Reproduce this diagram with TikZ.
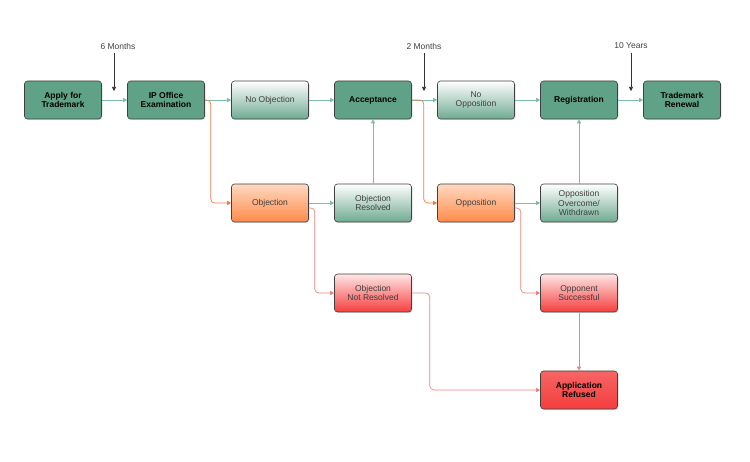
\documentclass[tikz,border=0pt]{standalone}
\usepackage{fontspec}
\setmainfont{Liberation Sans}
\usetikzlibrary{arrows.meta,shadows}
\definecolor{dg}{HTML}{5FA287}
\definecolor{lgb}{HTML}{6FAA92}
\definecolor{og}{HTML}{FF8A4A}
\definecolor{ot}{HTML}{FFD9C0}
\definecolor{rd}{HTML}{F53E3E}
\definecolor{rt}{HTML}{FFE6E6}
\definecolor{gl}{HTML}{7DBCA6}
\definecolor{ol}{HTML}{F07A45}
\definecolor{rl}{HTML}{F08080}
\begin{document}
\begin{tikzpicture}[x=1pt,y=-1pt,
 box/.style={rounded corners=3pt,draw=black!75,line width=0.6pt,minimum width=77pt,minimum height=38pt,align=center,font=\fontsize{8.5}{9.5}\selectfont,drop shadow={shadow xshift=1pt,shadow yshift=-1pt,opacity=0.25}},
 dark/.style={box,fill=dg,font=\fontsize{8.5}{9.5}\selectfont\bfseries},
 lgreen/.style={box,top color=white,bottom color=lgb,text=black!75},
 orange/.style={box,top color=ot,bottom color=og,text=black!75},
 red/.style={box,top color=rt,bottom color=rd,text=black!75},
 refused/.style={box,top color=rd!80,bottom color=rd,font=\fontsize{8.5}{9.5}\selectfont\bfseries},
 ga/.style={draw=gl,line width=0.7pt,-{Triangle[length=4pt,width=4pt]}},
 oa/.style={draw=ol,line width=0.7pt,rounded corners=4pt,-{Triangle[length=4pt,width=4pt]}},
 ra/.style={draw=rl,line width=0.7pt,rounded corners=4pt,-{Triangle[length=4pt,width=4pt]}},
 ka/.style={draw=black!80,line width=0.6pt,-{Triangle[length=4pt,width=4pt]}},
 lab/.style={font=\fontsize{8.5}{10}\selectfont,text=black!75}]
\useasboundingbox (0,0) rectangle (750,462);
\node[dark] (apply) at (63,100) {Apply for\\Trademark};
\node[dark] (ip) at (166,100) {IP Office\\Examination};
\node[lgreen] (noobj) at (270,100) {No Objection};
\node[dark] (acc) at (373,100) {Acceptance};
\node[lgreen] (noopp) at (476,100) {No\\Opposition};
\node[dark] (reg) at (579,100) {Registration};
\node[dark] (ren) at (682,100) {Trademark\\Renewal};
\node[orange] (obj) at (270,203) {Objection};
\node[lgreen] (objres) at (373,203) {Objection\\Resolved};
\node[orange] (opp) at (476,203) {Opposition};
\node[lgreen] (oppov) at (579,203) {Opposition\\Overcome/\\Withdrawn};
\node[red] (objnr) at (373,293) {Objection\\Not Resolved};
\node[red] (oppsu) at (579,293) {Opponent\\Successful};
\node[refused] (refd) at (579,390) {Application\\Refused};
\node[lab] (m6) at (118,46) {6 Months};
\node[lab] (m2) at (424,46) {2 Months};
\node[lab] (y10) at (631,46) {10 Years};
\coordinate (c6) at (114,91);
\coordinate (c2) at (424,91);
\coordinate (c10) at (631,91);
\draw[ka] (m6.south -| c6) -- (c6);
\draw[ka] (m2.south -| c2) -- (c2);
\draw[ka] (y10.south -| c10) -- (c10);
\draw[ga] (apply) -- (ip);
\draw[ga] (ip) -- (noobj);
\draw[ga] (noobj) -- (acc);
\draw[ga] (acc) -- (noopp);
\draw[ga] (noopp) -- (reg);
\draw[ga] (reg) -- (ren);
\draw[ga] (obj) -- (objres);
\draw[ga] (opp) -- (oppov);
\draw[ga] (objres) -- (acc);
\draw[ga] (oppov) -- (reg);
\draw[oa] (ip.east) -- ++(6,0) |- (obj.west);
\draw[oa] (acc.east) -- ++(12,0) |- (opp.west);
\draw[ra] ([yshift=-5pt]obj.east) -- ++(6,0) |- (objnr.west);
\draw[ra] ([yshift=-5pt]opp.east) -- ++(6,0) |- (oppsu.west);
\draw[ra] (objnr.east) -- ++(18,0) |- (refd.west);
\draw[ra] (oppsu) -- (refd);
\end{tikzpicture}
\end{document}
